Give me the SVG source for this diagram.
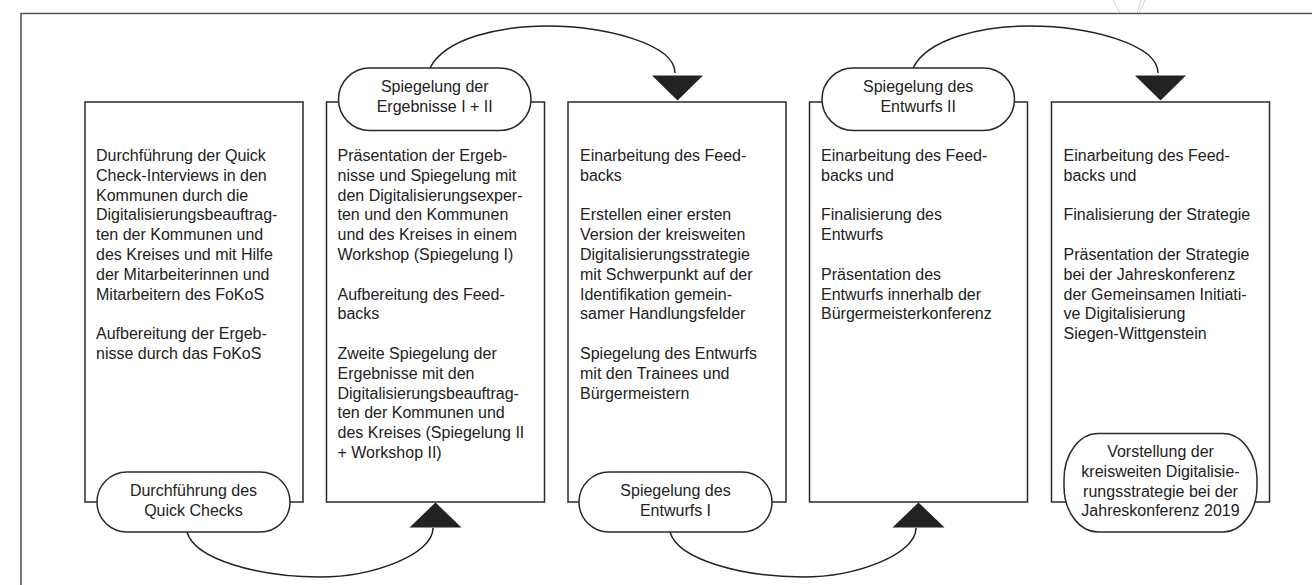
<svg xmlns="http://www.w3.org/2000/svg" width="1312" height="585" viewBox="0 0 1312 585">
<defs>
<style>
.frame{fill:none;stroke:#555;stroke-width:1.6}
.box{fill:#fff;stroke:#2a2a2a;stroke-width:1.5}
.pill{fill:#fff;stroke:#2a2a2a;stroke-width:1.5}
.t{font-family:"Liberation Sans",Arial,Helvetica,sans-serif;font-size:16px;fill:#222}
.c{text-anchor:middle}
.arc{fill:none;stroke:#222;stroke-width:1.5}
.head{fill:#222;stroke:none}
.faint{stroke:#d0d0d0;stroke-width:1;fill:none}
</style>
<path id="topArc" d="M430,68 C445,38 500,26 547,26 C605,26 675,44 675,73"/>
<path id="botArc" d="M187,532 C195,560 260,577 320,577 C372,577 433,555 433,528"/>
<polygon id="downHead" points="652,75.5 703,75.5 677.5,100.5"/>
<polygon id="upHead" points="409.5,527.5 461.5,527.5 435.5,502.5"/>
</defs>
<rect width="1312" height="585" fill="#fff"/>
<path class="faint" d="M1113,0 L1120,13 M1145,0 L1139,13 M1141,0 L1137,13"/>
<path class="frame" d="M21,585 V13.5 H1312"/>

<g id="box1">
<rect class="box" x="85" y="102" width="218" height="400"/>
<text class="t" x="96" y="161"><tspan x="96">Durchführung der Quick</tspan><tspan x="96" dy="19.8">Check-Interviews in den</tspan><tspan x="96" dy="19.8">Kommunen durch die</tspan><tspan x="96" dy="19.8">Digitalisierungsbeauftrag-</tspan><tspan x="96" dy="19.8">ten der Kommunen und</tspan><tspan x="96" dy="19.8">des Kreises und mit Hilfe</tspan><tspan x="96" dy="19.8">der Mitarbeiterinnen und</tspan><tspan x="96" dy="19.8">Mitarbeitern des FoKoS</tspan><tspan x="96" dy="39.6">Aufbereitung der Ergeb-</tspan><tspan x="96" dy="19.8">nisse durch das FoKoS</tspan></text>
</g>

<g id="box2">
<rect class="box" x="326.5" y="102" width="218" height="400"/>
<text class="t" x="337.5" y="161"><tspan x="337.5">Präsentation der Ergeb-</tspan><tspan x="337.5" dy="19.8">nisse und Spiegelung mit</tspan><tspan x="337.5" dy="19.8">den Digitalisierungsexper-</tspan><tspan x="337.5" dy="19.8">ten und den Kommunen</tspan><tspan x="337.5" dy="19.8">und des Kreises in einem</tspan><tspan x="337.5" dy="19.8">Workshop (Spiegelung I)</tspan><tspan x="337.5" dy="39.6">Aufbereitung des Feed-</tspan><tspan x="337.5" dy="19.8">backs</tspan><tspan x="337.5" dy="39.6">Zweite Spiegelung der</tspan><tspan x="337.5" dy="19.8">Ergebnisse mit den</tspan><tspan x="337.5" dy="19.8">Digitalisierungsbeauftrag-</tspan><tspan x="337.5" dy="19.8">ten der Kommunen und</tspan><tspan x="337.5" dy="19.8">des Kreises (Spiegelung II</tspan><tspan x="337.5" dy="19.8">+ Workshop II)</tspan></text>
</g>

<g id="box3">
<rect class="box" x="568" y="102" width="218" height="400"/>
<text class="t" x="580" y="161"><tspan x="580">Einarbeitung des Feed-</tspan><tspan x="580" dy="19.8">backs</tspan><tspan x="580" dy="39.6">Erstellen einer ersten</tspan><tspan x="580" dy="19.8">Version der kreisweiten</tspan><tspan x="580" dy="19.8">Digitalisierungsstrategie</tspan><tspan x="580" dy="19.8">mit Schwerpunkt auf der</tspan><tspan x="580" dy="19.8">Identifikation gemein-</tspan><tspan x="580" dy="19.8">samer Handlungsfelder</tspan><tspan x="580" dy="39.6">Spiegelung des Entwurfs</tspan><tspan x="580" dy="19.8">mit den Trainees und</tspan><tspan x="580" dy="19.8">Bürgermeistern</tspan></text>
</g>

<g id="box4">
<rect class="box" x="809.5" y="102" width="218" height="400"/>
<text class="t" x="821" y="161"><tspan x="821">Einarbeitung des Feed-</tspan><tspan x="821" dy="19.8">backs und</tspan><tspan x="821" dy="39.6">Finalisierung des</tspan><tspan x="821" dy="19.8">Entwurfs</tspan><tspan x="821" dy="39.6">Präsentation des</tspan><tspan x="821" dy="19.8">Entwurfs innerhalb der</tspan><tspan x="821" dy="19.8">Bürgermeisterkonferenz</tspan></text>
</g>

<g id="box5">
<rect class="box" x="1051.5" y="102" width="218" height="400"/>
<text class="t" x="1063.5" y="161"><tspan x="1063.5">Einarbeitung des Feed-</tspan><tspan x="1063.5" dy="19.8">backs und</tspan><tspan x="1063.5" dy="39.6">Finalisierung der Strategie</tspan><tspan x="1063.5" dy="39.6">Präsentation der Strategie</tspan><tspan x="1063.5" dy="19.8">bei der Jahreskonferenz</tspan><tspan x="1063.5" dy="19.8">der Gemeinsamen Initiati-</tspan><tspan x="1063.5" dy="19.8">ve Digitalisierung</tspan><tspan x="1063.5" dy="19.8">Siegen-Wittgenstein</tspan></text>
</g>

<g id="connectors">
<use href="#topArc" class="arc"/>
<use href="#downHead" class="head"/>
<use href="#topArc" class="arc" transform="translate(483,0)"/>
<use href="#downHead" class="head" transform="translate(483,0)"/>
<use href="#botArc" class="arc"/>
<use href="#upHead" class="head"/>
<use href="#botArc" class="arc" transform="translate(483,0)"/>
<use href="#upHead" class="head" transform="translate(483,0)"/>
</g>

<g id="pill-spiegelung-ergebnisse">
<rect class="pill" x="338.5" y="68" width="192.5" height="62.5" rx="31.25"/>
<text class="t c" x="434.7" y="92.3"><tspan x="434.7">Spiegelung der</tspan><tspan x="434.7" dy="20">Ergebnisse I + II</tspan></text>
</g>

<g id="pill-spiegelung-entwurf2">
<rect class="pill" x="822" y="68" width="192.5" height="62.5" rx="31.25"/>
<text class="t c" x="918.2" y="92.3"><tspan x="918.2">Spiegelung des</tspan><tspan x="918.2" dy="20">Entwurfs II</tspan></text>
</g>

<g id="pill-quick-checks">
<rect class="pill" x="97" y="472" width="193" height="60" rx="30"/>
<text class="t c" x="193.5" y="496.3"><tspan x="193.5">Durchführung des</tspan><tspan x="193.5" dy="19.5">Quick Checks</tspan></text>
</g>

<g id="pill-spiegelung-entwurf1">
<rect class="pill" x="579" y="472" width="193" height="60" rx="30"/>
<text class="t c" x="675.5" y="496.3"><tspan x="675.5">Spiegelung des</tspan><tspan x="675.5" dy="19.5">Entwurfs I</tspan></text>
</g>

<g id="pill-vorstellung">
<rect class="pill" x="1064" y="433.5" width="193" height="98.5" rx="34" ry="46"/>
<text class="t c" x="1160.5" y="457.3"><tspan x="1160.5">Vorstellung der</tspan><tspan x="1160.5" dy="19.6">kreisweiten Digitalisie-</tspan><tspan x="1160.5" dy="19.6">rungsstrategie bei der</tspan><tspan x="1160.5" dy="19.6">Jahreskonferenz 2019</tspan></text>
</g>
</svg>
